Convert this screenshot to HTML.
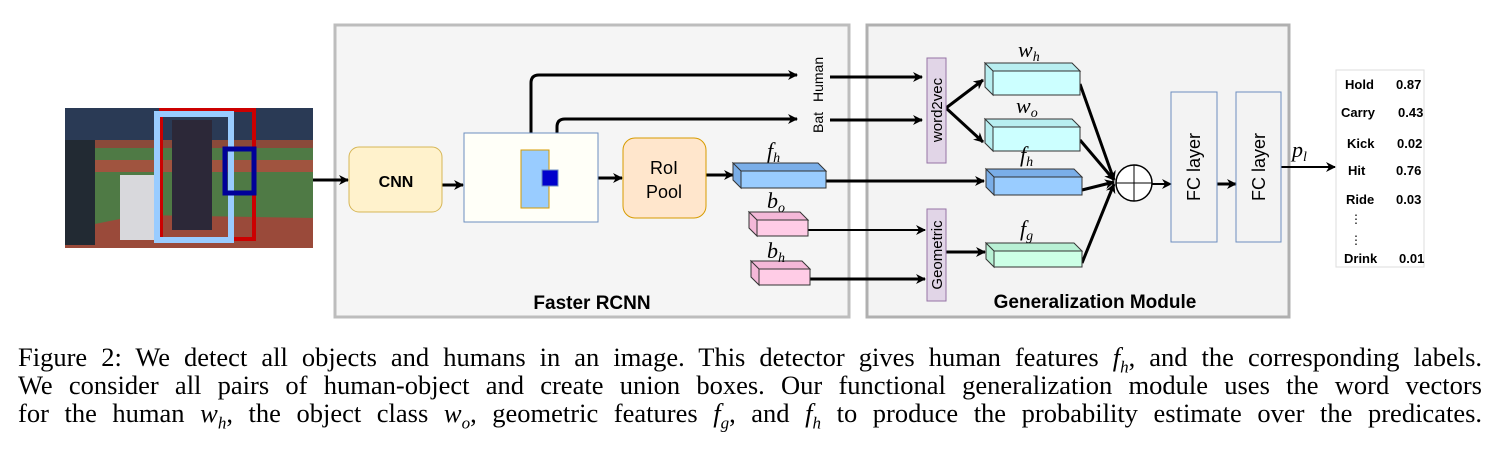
<!DOCTYPE html>
<html><head><meta charset="utf-8"><style>
body{margin:0;background:#fff;width:1510px;height:463px;overflow:hidden}
.cap{position:absolute;left:18px;width:1464px;font-family:"Liberation Serif",serif;font-size:26.5px;line-height:28px;text-align:justify;text-align-last:justify;color:#000;white-space:nowrap}
</style></head><body>
<svg width="1510" height="330" style="position:absolute;left:0;top:0" font-family="Liberation Sans, sans-serif">
<defs><marker id="a" markerWidth="10" markerHeight="10" refX="9" refY="5" orient="auto" markerUnits="userSpaceOnUse"><path d="M0,0 L10,5 L0,10 L3,5z" fill="#000"/></marker></defs>
<rect x="65" y="108" width="248" height="140" fill="#4f7a45"/>
<rect x="65" y="108" width="248" height="32" fill="#2a3a55"/>
<rect x="65" y="140" width="248" height="8" fill="#8a4a3a"/>
<rect x="65" y="160" width="248" height="12" fill="#a0543f"/>
<path d="M65,230 L140,215 L313,218 L313,248 L65,248z" fill="#9a4a3a"/>
<rect x="65" y="140" width="30" height="105" fill="#222a33"/>
<rect x="120" y="175" width="40" height="65" fill="#d8d8dc"/>
<rect x="172" y="120" width="40" height="110" fill="#2c2838"/>
<rect x="161" y="110" width="93" height="129" fill="none" stroke="#cc0000" stroke-width="4"/>
<rect x="157" y="114" width="74" height="126" fill="none" stroke="#99ccff" stroke-width="6"/>
<rect x="225" y="149" width="29" height="44" fill="none" stroke="#000099" stroke-width="5"/>
<rect x="335" y="25" width="514" height="292" fill="#f5f5f5" stroke="#bdbdbd" stroke-width="3"/>
<rect x="867" y="25" width="422" height="292" fill="#f3f3f3" stroke="#b0b0b0" stroke-width="3"/>
<text x="592" y="309" font-size="19" font-weight="bold" text-anchor="middle">Faster RCNN</text>
<text x="1095" y="308" font-size="19" font-weight="bold" text-anchor="middle">Generalization Module</text>
<g stroke="#000" stroke-width="3" fill="none" marker-end="url(#a)">
<line x1="313" y1="180" x2="348" y2="180"/>
<line x1="442" y1="185" x2="463" y2="185"/>
<line x1="598" y1="178" x2="622" y2="178"/>
<line x1="706" y1="175" x2="733" y2="175"/>
<path d="M531,150 L531,83 Q531,75 539,75 L797,75"/>
<path d="M557,172 L557,127 Q557,119 565,119 L797,119"/>
<line x1="830" y1="77" x2="922" y2="77"/>
<line x1="830" y1="120" x2="922" y2="120"/>
<line x1="826" y1="181" x2="984" y2="181"/>
<line x1="808" y1="230" x2="925" y2="230" stroke-width="2"/>
<line x1="810" y1="279" x2="925" y2="279"/>
<line x1="946" y1="108" x2="983" y2="80"/>
<line x1="946" y1="108" x2="983" y2="142"/>
<line x1="946" y1="252" x2="985" y2="252"/>
<line x1="1080" y1="84" x2="1114" y2="180"/>
<line x1="1080" y1="140" x2="1114" y2="180"/>
<line x1="1082" y1="190" x2="1114" y2="182"/>
<line x1="1082" y1="263" x2="1114" y2="184"/>
<line x1="1152" y1="184" x2="1171" y2="184" stroke-width="2"/>
<line x1="1217" y1="184" x2="1236" y2="184"/>
<line x1="1281" y1="167" x2="1335" y2="167" stroke-width="2"/>
</g>
<rect x="349" y="147" width="93" height="65" rx="10" fill="#fff2cc" stroke="#d6b656"/>
<text x="396" y="187" font-size="16" font-weight="bold" text-anchor="middle">CNN</text>
<rect x="464" y="133" width="134" height="89" fill="#fffff8" stroke="#6c8ebf"/>
<rect x="521" y="150" width="28" height="58" fill="#99ccff" stroke="#d79b00"/>
<rect x="542" y="170" width="16" height="16" fill="#0000cc" stroke="#6c8ebf"/>
<rect x="623" y="138" width="83" height="80" rx="12" fill="#ffe6cc" stroke="#d79b00"/>
<text x="664" y="174" font-size="18" text-anchor="middle">RoI</text>
<text x="664" y="198" font-size="18" text-anchor="middle">Pool</text>
<text transform="translate(823,102) rotate(-90)" font-size="14">Human</text>
<text transform="translate(823,133) rotate(-90)" font-size="14">Bat</text>
<g stroke="#333" stroke-width="1">
<path d="M733,163 L818,163 L826,171 L741,171z M733,163 L741,171 L741,188 L733,180z" fill="#7aaee8"/><rect x="741" y="171" width="85" height="17" fill="#99ccff"/>
<path d="M749,212 L800,212 L808,220 L757,220z M749,212 L757,220 L757,236 L749,228z" fill="#f4b8d8"/><rect x="757" y="220" width="51" height="16" fill="#ffcce6"/>
<path d="M751,261 L802,261 L810,269 L759,269z M751,261 L759,269 L759,285 L751,277z" fill="#f4b8d8"/><rect x="759" y="269" width="51" height="16" fill="#ffcce6"/>
<path d="M985,63 L1072,63 L1080,71 L993,71z M985,63 L993,71 L993,95 L985,87z" fill="#b8eef0"/><rect x="993" y="71" width="87" height="24" fill="#ccffff"/>
<path d="M985,119 L1072,119 L1080,127 L993,127z M985,119 L993,127 L993,151 L985,143z" fill="#b8eef0"/><rect x="993" y="127" width="87" height="24" fill="#ccffff"/>
<path d="M986,169 L1074,169 L1082,177 L994,177z M986,169 L994,177 L994,195 L986,187z" fill="#7aaee8"/><rect x="994" y="177" width="88" height="18" fill="#99ccff"/>
<path d="M986,243 L1074,243 L1082,251 L994,251z M986,243 L994,251 L994,267 L986,259z" fill="#b8f0d4"/><rect x="994" y="251" width="88" height="16" fill="#ccffe6"/>
</g>
<g font-family="Liberation Serif, serif" font-style="italic" font-size="22">
<text x="767" y="158">f<tspan font-size="14" dy="4">h</tspan></text>
<text x="767" y="208">b<tspan font-size="14" dy="4">o</tspan></text>
<text x="767" y="258">b<tspan font-size="14" dy="4">h</tspan></text>
<text x="1018" y="57">w<tspan font-size="14" dy="4">h</tspan></text>
<text x="1016" y="113">w<tspan font-size="14" dy="4">o</tspan></text>
<text x="1020" y="162">f<tspan font-size="14" dy="4">h</tspan></text>
<text x="1020" y="236">f<tspan font-size="14" dy="4">g</tspan></text>
<text x="1292" y="157">p<tspan font-size="14" dy="4">l</tspan></text>
</g>
<rect x="927" y="58" width="19" height="105" fill="#e1d5e7" stroke="#9673a6"/>
<text transform="translate(942,110) rotate(-90)" font-size="15" text-anchor="middle">word2vec</text>
<rect x="927" y="209" width="19" height="92" fill="#e1d5e7" stroke="#9673a6"/>
<text transform="translate(942,255) rotate(-90)" font-size="15" text-anchor="middle">Geometric</text>
<circle cx="1134" cy="183" r="18" fill="#fff" stroke="#000" stroke-width="1.5"/>
<line x1="1116" y1="183" x2="1152" y2="183" stroke="#000"/><line x1="1134" y1="165" x2="1134" y2="201" stroke="#000"/>
<rect x="1171" y="92" width="46" height="150" fill="none" stroke="#6c8ebf"/>
<rect x="1236" y="92" width="45" height="150" fill="none" stroke="#6c8ebf"/>
<text transform="translate(1200,167) rotate(-90)" font-size="18" text-anchor="middle">FC layer</text>
<text transform="translate(1265,167) rotate(-90)" font-size="18" text-anchor="middle">FC layer</text>
<rect x="1336" y="70" width="88" height="197" fill="#fff" stroke="#ddd"/>
<g font-size="13" font-weight="bold">
<text x="1345" y="89">Hold</text><text x="1396" y="89">0.87</text>
<text x="1341" y="117">Carry</text><text x="1398" y="117">0.43</text>
<text x="1347" y="148">Kick</text><text x="1397" y="148">0.02</text>
<text x="1348" y="175">Hit</text><text x="1396" y="175">0.76</text>
<text x="1346" y="204">Ride</text><text x="1396" y="204">0.03</text>
<text x="1344" y="263">Drink</text><text x="1399" y="263">0.01</text>
</g>
<text x="1356" y="223" font-size="12" text-anchor="middle">⋮</text>
<text x="1356" y="244" font-size="12" text-anchor="middle">⋮</text>
</svg>
<div class="cap" style="top:343px">Figure 2: We detect all objects and humans in an image. This detector gives human features <i>f<sub style="font-size:17px">h</sub></i>, and the corresponding labels.</div>
<div class="cap" style="top:371px">We consider all pairs of human-object and create union boxes. Our functional generalization module uses the word vectors</div>
<div class="cap" style="top:399px">for the human <i>w<sub style="font-size:17px">h</sub></i>, the object class <i>w<sub style="font-size:17px">o</sub></i>, geometric features <i>f<sub style="font-size:17px">g</sub></i>, and <i>f<sub style="font-size:17px">h</sub></i> to produce the probability estimate over the predicates.</div>
</body></html>
